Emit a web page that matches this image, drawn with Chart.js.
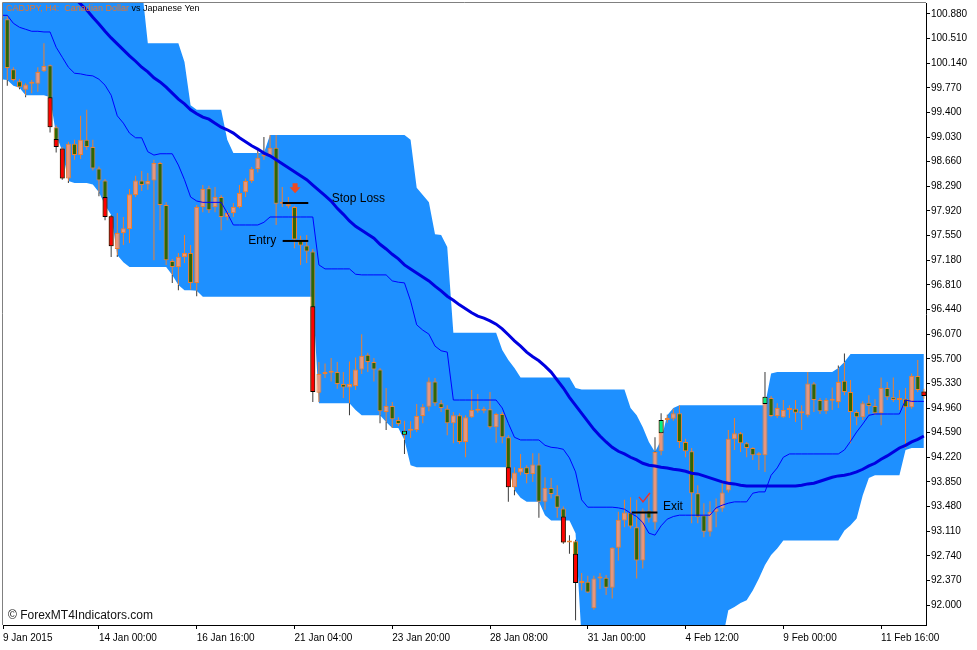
<!DOCTYPE html>
<html>
<head>
<meta charset="utf-8">
<title>CADJPY H4</title>
<script src="https://cdn.jsdelivr.net/npm/chart.js@4.4.1/dist/chart.umd.min.js"></script>
<style>
  html, body { margin: 0; padding: 0; background: #fff; }
  canvas { display: block; }
</style>
</head>
<body>
<canvas id="chart" width="977" height="650"></canvas>
<script>
// time labels under the chart, one every 16 H4 bars
const timeLabels = ['9 Jan 2015', '14 Jan 00:00', '16 Jan 16:00', '21 Jan 04:00', '23 Jan 20:00',
  '28 Jan 08:00', '31 Jan 00:00', '4 Feb 12:00', '9 Feb 00:00', '11 Feb 16:00'];
const timeLabelBars = [0, 16, 32, 48, 64, 80, 96, 112, 128, 144];

const priceTicks = [92.000, 92.370, 92.740, 93.110, 93.480, 93.850, 94.220, 94.590, 94.960, 95.330,
  95.700, 96.070, 96.440, 96.810, 97.180, 97.550, 97.920, 98.290, 98.660, 99.030, 99.400, 99.770,
  100.140, 100.510, 100.880];

// candles, oldest first
const opens = [
  100.82, 100.80, 100.05, 99.87, 99.74, 99.83, 99.83, 100.02, 100.11, 99.18,
  98.86, 98.41, 98.93, 98.76, 98.99, 98.88, 98.56, 98.38, 97.84, 97.35,
  97.59, 97.65, 98.16, 98.38, 98.32, 98.38, 98.64, 98.01, 97.17, 97.08,
  97.23, 97.29, 96.84, 97.98, 98.26, 97.98, 98.13, 97.83, 97.89, 97.98,
  98.20, 98.37, 98.55, 98.74, 98.75, 98.87, 98.03, 98.02, 97.98, 97.49,
  97.40, 97.31, 95.19, 95.47, 95.49, 95.50, 95.32, 95.27, 95.29, 95.54,
  95.76, 95.65, 95.54, 94.90, 94.99, 94.78, 94.56, 94.62, 94.63, 94.84,
  94.98, 95.36, 95.03, 94.95, 94.73, 94.85, 94.45, 94.82, 94.93, 94.92,
  94.94, 94.67, 94.87, 94.52, 93.77, 93.99, 94.07, 93.97, 94.11, 93.55,
  93.76, 93.65, 93.45, 92.94, 92.96, 92.33, 92.35, 91.95, 92.40, 92.41,
  92.26, 92.86, 93.27, 93.39, 93.17, 92.67, 93.42, 93.24, 94.31, 94.78,
  94.80, 94.88, 94.45, 94.31, 93.68, 93.35, 93.10, 93.40, 93.45, 93.72,
  94.49, 94.58, 94.43, 94.36, 94.25, 94.25, 95.11, 94.84, 94.82, 94.93,
  94.95, 94.88, 94.85, 95.33, 95.08, 94.91, 95.07, 95.05, 95.37, 95.20,
  94.90, 94.82, 95.04, 94.99, 94.88, 95.26, 95.12, 95.08, 95.10, 94.97,
  95.44, 95.21];
const highs = [
  100.88, 100.85, 100.08, 99.90, 99.84, 99.89, 100.08, 100.44, 100.12, 99.21,
  98.88, 98.96, 98.99, 99.35, 99.44, 98.99, 98.59, 98.40, 97.86, 97.89,
  97.83, 98.25, 98.45, 98.52, 98.49, 98.69, 98.66, 98.05, 97.20, 97.29,
  97.56, 97.41, 98.01, 98.31, 98.30, 98.28, 98.16, 97.93, 98.04, 98.31,
  98.41, 98.58, 98.84, 99.03, 99.06, 99.06, 98.28, 98.13, 98.00, 97.55,
  97.56, 97.35, 95.65, 95.63, 95.71, 95.65, 95.50, 95.66, 95.72, 96.07,
  95.79, 95.71, 95.56, 95.26, 95.05, 94.82, 94.77, 94.76, 95.02, 95.02,
  95.42, 95.41, 95.08, 95.00, 94.90, 94.88, 94.85, 95.23, 95.17, 94.98,
  95.20, 94.89, 94.90, 94.55, 94.07, 94.27, 94.10, 94.28, 94.28, 93.92,
  93.91, 93.80, 93.48, 93.05, 92.98, 92.48, 92.44, 92.44, 92.48, 92.45,
  92.87, 93.40, 93.58, 93.62, 93.58, 93.45, 93.68, 94.52, 94.88, 94.86,
  94.95, 95.00, 94.50, 94.36, 93.80, 93.53, 93.56, 93.60, 93.85, 94.63,
  94.81, 94.60, 94.45, 94.37, 94.30, 95.50, 95.14, 95.03, 95.08, 95.00,
  95.08, 95.00, 95.50, 95.35, 95.11, 95.11, 95.27, 95.60, 95.78, 95.38,
  94.93, 95.06, 95.15, 95.09, 95.42, 95.35, 95.42, 95.23, 95.26, 95.48,
  95.68, 95.25];
const lows = [
  100.78, 99.80, 99.87, 99.75, 99.63, 99.69, 99.71, 100.01, 99.10, 98.80,
  98.39, 98.34, 98.69, 98.70, 98.84, 98.53, 98.14, 97.78, 97.23, 97.23,
  97.41, 97.44, 98.13, 98.22, 98.24, 97.18, 97.63, 97.11, 96.84, 96.73,
  97.14, 96.74, 96.64, 97.90, 97.89, 97.90, 97.63, 97.78, 97.83, 97.96,
  98.13, 98.34, 98.50, 98.69, 98.73, 97.71, 97.98, 97.96, 97.36, 97.11,
  97.14, 95.05, 95.05, 95.41, 95.36, 95.25, 95.11, 94.85, 95.23, 95.47,
  95.50, 95.36, 94.73, 94.63, 94.66, 94.69, 94.27, 94.51, 94.60, 94.73,
  94.91, 94.99, 94.90, 94.55, 94.43, 94.42, 94.22, 94.81, 94.89, 94.88,
  94.65, 94.44, 94.43, 93.55, 93.65, 93.95, 93.83, 93.85, 93.31, 93.43,
  93.60, 93.31, 92.92, 92.77, 91.77, 92.22, 92.18, 91.93, 92.24, 92.15,
  92.10, 92.67, 93.17, 93.15, 92.40, 92.55, 93.24, 93.13, 94.25, 94.74,
  94.77, 94.36, 94.22, 93.23, 93.23, 93.02, 93.03, 93.17, 93.40, 93.69,
  94.33, 94.30, 94.22, 94.18, 94.03, 94.00, 94.82, 94.81, 94.81, 94.81,
  94.75, 94.63, 94.82, 94.90, 94.87, 94.87, 94.93, 94.96, 95.15, 94.43,
  94.70, 94.78, 94.87, 94.85, 94.70, 95.08, 95.05, 94.93, 94.36, 94.95,
  95.20, 95.10];
const closes = [
  100.86, 100.07, 99.89, 99.78, 99.82, 99.84, 100.01, 100.10, 99.18, 98.88,
  98.41, 98.93, 98.76, 98.99, 98.88, 98.56, 98.38, 97.83, 97.39, 97.59,
  97.66, 98.17, 98.38, 98.31, 98.37, 98.64, 98.01, 97.18, 97.08, 97.23,
  97.29, 96.84, 97.98, 98.25, 97.93, 98.13, 97.83, 97.89, 97.98, 98.19,
  98.37, 98.55, 98.72, 98.75, 98.87, 98.03, 98.04, 97.99, 97.49, 97.40,
  97.31, 95.20, 95.47, 95.49, 95.50, 95.32, 95.27, 95.32, 95.54, 95.74,
  95.65, 95.54, 94.91, 94.99, 94.79, 94.72, 94.62, 94.64, 94.84, 94.98,
  95.36, 95.03, 94.96, 94.73, 94.85, 94.45, 94.82, 94.93, 94.92, 94.94,
  94.67, 94.87, 94.52, 93.77, 93.99, 94.06, 93.97, 94.11, 93.55, 93.76,
  93.67, 93.46, 92.94, 92.96, 92.33, 92.34, 92.19, 92.40, 92.41, 92.26,
  92.86, 93.28, 93.39, 93.18, 92.67, 93.42, 93.30, 94.30, 94.78, 94.80,
  94.88, 94.45, 94.31, 93.68, 93.32, 93.10, 93.40, 93.45, 93.69, 94.50,
  94.58, 94.43, 94.36, 94.25, 94.27, 95.13, 94.84, 94.96, 94.93, 94.94,
  94.89, 94.91, 95.33, 95.08, 94.91, 95.08, 95.10, 95.35, 95.20, 94.90,
  94.82, 95.03, 94.99, 94.88, 95.26, 95.12, 95.08, 95.09, 94.97, 95.44,
  95.23, 95.14];

// channel: filled between upper and lower edge
const bandUpper = [
  101.30, 101.30, 101.30, 101.30, 101.30, 101.30, 101.30, 101.30, 101.30, 101.30,
  101.30, 101.30, 101.30, 101.30, 101.30, 101.30, 101.30, 101.30, 101.30, 101.30,
  101.30, 101.30, 101.30, 101.30, 100.44, 100.44, 100.44, 100.44, 100.44, 100.44,
  100.16, 99.51, 99.44, 99.44, 99.44, 99.44, 99.44, 98.99, 98.79, 98.79,
  98.79, 98.79, 98.79, 98.79, 99.06, 99.06, 99.06, 99.06, 99.06, 99.06,
  99.06, 99.06, 99.06, 99.06, 99.06, 99.06, 99.06, 99.06, 99.06, 99.06,
  99.06, 99.06, 99.06, 99.06, 99.06, 99.06, 99.06, 98.99, 98.27, 98.16,
  98.05, 97.57, 97.56, 97.38, 96.09, 96.09, 96.09, 96.09, 96.09, 96.09,
  96.09, 96.09, 95.83, 95.68, 95.56, 95.42, 95.42, 95.42, 95.42, 95.42,
  95.42, 95.42, 95.42, 95.42, 95.26, 95.24, 95.24, 95.24, 95.24, 95.24,
  95.24, 95.24, 95.24, 94.96, 94.85, 94.67, 94.45, 94.30, 94.48, 94.85,
  94.96, 95.00, 95.00, 95.00, 95.00, 95.00, 95.00, 95.00, 95.00, 95.00,
  95.00, 95.00, 95.00, 95.00, 95.00, 95.00, 95.48, 95.50, 95.50, 95.50,
  95.50, 95.50, 95.50, 95.50, 95.50, 95.50, 95.50, 95.56, 95.65, 95.77,
  95.77, 95.77, 95.77, 95.77, 95.77, 95.77, 95.77, 95.77, 95.77, 95.77,
  95.77, 95.77];
const bandLower = [
  99.90, 99.89, 99.80, 99.77, 99.66, 99.66, 99.66, 99.66, 99.63, 99.06,
  98.82, 98.37, 98.34, 98.34, 98.34, 98.32, 98.20, 98.01, 97.86, 97.26,
  97.15, 97.08, 97.08, 97.08, 97.08, 97.08, 97.08, 97.08, 96.96, 96.81,
  96.73, 96.73, 96.72, 96.63, 96.63, 96.63, 96.63, 96.63, 96.63, 96.63,
  96.63, 96.63, 96.63, 96.63, 96.63, 96.63, 96.63, 96.63, 96.63, 96.63,
  96.63, 96.63, 95.03, 95.03, 95.03, 95.03, 95.03, 95.03, 94.93, 94.85,
  94.85, 94.85, 94.85, 94.75, 94.66, 94.66, 94.48, 94.10, 94.07, 94.07,
  94.07, 94.07, 94.07, 94.07, 94.07, 94.07, 94.07, 94.07, 94.07, 94.07,
  94.07, 94.07, 94.07, 94.07, 93.73, 93.61, 93.55, 93.55, 93.55, 93.35,
  93.27, 93.27, 93.27, 93.27, 93.08, 91.47, 91.47, 91.47, 91.47, 91.47,
  91.47, 91.47, 91.47, 91.47, 91.47, 91.47, 91.47, 91.47, 91.47, 91.47,
  91.47, 91.47, 91.47, 91.47, 91.47, 91.47, 91.47, 91.47, 91.47, 91.92,
  91.97, 92.03, 92.07, 92.22, 92.40, 92.60, 92.75, 92.85, 92.97, 92.97,
  92.97, 92.97, 92.97, 92.97, 92.97, 92.97, 92.97, 92.97, 93.12, 93.20,
  93.30, 93.65, 93.91, 93.95, 93.95, 93.95, 93.95, 93.95, 94.33, 94.36,
  94.36, 94.36];
// thin middle line of the channel
const midLine = [
  100.86, 100.86, 100.74, 100.68, 100.65, 100.62, 100.62, 100.61, 100.61, 100.38,
  100.23, 100.08, 99.99, 99.98, 99.96, 99.95, 99.90, 99.81, 99.66, 99.35,
  99.24, 99.09, 99.02, 99.02, 98.81, 98.76, 98.78, 98.78, 98.78, 98.61,
  98.39, 98.13, 98.07, 98.05, 98.05, 98.05, 98.05, 97.89, 97.71, 97.71,
  97.71, 97.71, 97.71, 97.75, 97.83, 97.83, 97.83, 97.83, 97.83, 97.83,
  97.83, 97.83, 97.11, 97.05, 97.05, 97.05, 97.05, 97.05, 96.97, 96.96,
  96.96, 96.96, 96.96, 96.96, 96.87, 96.85, 96.84, 96.57, 96.21, 96.13,
  96.07, 95.89, 95.82, 95.80, 95.08, 95.08, 95.08, 95.08, 95.08, 95.08,
  95.08, 95.08, 94.96, 94.73, 94.52, 94.48, 94.48, 94.48, 94.48, 94.40,
  94.37, 94.36, 94.34, 94.21, 94.00, 93.58, 93.47, 93.47, 93.47, 93.47,
  93.47, 93.46, 93.44, 93.38, 93.33, 93.24, 93.08, 93.05, 93.19, 93.29,
  93.33, 93.35, 93.35, 93.35, 93.35, 93.35, 93.35, 93.46, 93.50, 93.53,
  93.55, 93.55, 93.55, 93.68, 93.70, 93.70, 93.95, 94.06, 94.22, 94.27,
  94.27, 94.27, 94.27, 94.27, 94.27, 94.27, 94.27, 94.27, 94.33, 94.46,
  94.60, 94.72, 94.85, 94.87, 94.87, 94.87, 94.87, 94.87, 95.08, 95.06,
  95.06, 95.06];
// slow moving average (thick line)
const slowMA = [
  102.29, 102.19, 102.08, 101.98, 101.87, 101.77, 101.66, 101.56, 101.45, 101.35,
  101.24, 101.17, 101.12, 101.03, 100.94, 100.83, 100.73, 100.62, 100.52, 100.43,
  100.34, 100.25, 100.17, 100.08, 100.01, 99.92, 99.86, 99.78, 99.69, 99.60,
  99.53, 99.44, 99.38, 99.33, 99.30, 99.24, 99.18, 99.14, 99.09, 99.02,
  98.96, 98.90, 98.85, 98.79, 98.75, 98.69, 98.63, 98.57, 98.51, 98.45,
  98.39, 98.31, 98.23, 98.15, 98.07, 97.96, 97.87, 97.77, 97.69, 97.63,
  97.57, 97.51, 97.42, 97.35, 97.27, 97.20, 97.11, 97.05, 96.99, 96.93,
  96.87, 96.79, 96.72, 96.64, 96.58, 96.51, 96.45, 96.39, 96.34, 96.31,
  96.27, 96.22, 96.15, 96.06, 95.97, 95.89, 95.80, 95.73, 95.67, 95.59,
  95.50, 95.38, 95.26, 95.12, 95.00, 94.88, 94.76, 94.64, 94.54, 94.45,
  94.37, 94.31, 94.27, 94.22, 94.18, 94.13, 94.10, 94.09, 94.07, 94.06,
  94.04, 94.03, 94.01, 93.98, 93.97, 93.94, 93.91, 93.88, 93.85, 93.83,
  93.82, 93.80, 93.79, 93.79, 93.79, 93.79, 93.79, 93.79, 93.79, 93.79,
  93.79, 93.80, 93.82, 93.83, 93.86, 93.89, 93.92, 93.94, 93.95, 93.97,
  94.00, 94.04, 94.09, 94.13, 94.19, 94.24, 94.30, 94.36, 94.40, 94.45,
  94.49, 94.54];

// bars painted by the signal indicator: [bar, from price, to price]
const redMarks = [[8, 99.63, 99.18], [9, 99.00, 98.88], [10, 98.86, 98.41], [17, 98.13, 97.83],
  [18, 97.84, 97.39], [51, 96.49, 95.20], [83, 94.07, 93.77], [92, 93.33, 92.94],
  [94, 92.77, 92.33], [151, 95.21, 95.14]];
const greenMarks = [[66, 94.56, 94.62], [108, 94.58, 94.78], [125, 95.02, 95.13]];

// trade annotations: bar range and price
const stopLoss = { from: 46.07, to: 50.26, price: 98.04 };
const entry = { from: 46.07, to: 50.26, price: 97.47 };
const exit = { from: 103.2, to: 107.4, price: 93.39 };
const sellArrow = { bar: 48.1, price: 98.26 };
const exitCheck = { bar: 105.2, price: 93.61 };
const notes = [
  { text: 'Stop Loss', bar: 54.1, price: 98.11, align: 'left' },
  { text: 'Entry', bar: 45.0, price: 97.47, align: 'right' },
  { text: 'Exit', bar: 108.3, price: 93.48, align: 'left' }
];

const X_MIN = 0.3, X_MAX = 151.35;
const Y_MIN = 91.70, Y_MAX = 101.045;

const BULL = '#E9967A', BEAR = '#336600', OUTLINE = '#EE8030';

const pts = (arr) => arr.map((v, i) => ({ x: i, y: v }));

// wicks: orange inside the channel, dark where they stick out of it
const wickIn = [], wickOut = [];
for (let i = 0; i < opens.length; i++) {
  const lo = Math.max(lows[i], bandLower[i]);
  const hi = Math.min(highs[i], bandUpper[i]);
  if (hi > lo) wickIn.push({ x: i, y: [lo, hi] });
  if (lows[i] < bandLower[i]) wickOut.push({ x: i, y: [lows[i], Math.min(highs[i], bandLower[i])] });
  if (highs[i] > bandUpper[i]) wickOut.push({ x: i, y: [Math.max(lows[i], bandUpper[i]), highs[i]] });
}
const bodies = opens.map((o, i) => ({ x: i, y: [o, closes[i]] }));
const bodyFill = opens.map((o, i) => (closes[i] >= o ? BULL : BEAR));

const barBase = {
  type: 'bar', grouped: false, borderSkipped: false, inflateAmount: 0,
  categoryPercentage: 1, barPercentage: 0.9
};
const levelLine = (lv, order) => ({
  type: 'line', order, data: [{ x: lv.from, y: lv.price }, { x: lv.to, y: lv.price }],
  borderColor: '#000', borderWidth: 2, pointRadius: 0
});

const decorations = {
  id: 'decorations',
  afterDatasetsDraw(chart) {
    const { ctx, scales: { x, y } } = chart;
    ctx.save();

    // sell arrow
    const ax = x.getPixelForValue(sellArrow.bar), ay = y.getPixelForValue(sellArrow.price);
    ctx.fillStyle = '#EE4A22';
    ctx.beginPath();
    ctx.moveTo(ax - 2.5, ay - 5);
    ctx.lineTo(ax + 2.5, ay - 5);
    ctx.lineTo(ax + 2.5, ay - 1);
    ctx.lineTo(ax + 5.5, ay - 1);
    ctx.lineTo(ax, ay + 5);
    ctx.lineTo(ax - 5.5, ay - 1);
    ctx.lineTo(ax - 2.5, ay - 1);
    ctx.closePath();
    ctx.fill();

    // exit check mark
    const cx = x.getPixelForValue(exitCheck.bar), cy = y.getPixelForValue(exitCheck.price);
    ctx.strokeStyle = '#E83030';
    ctx.lineWidth = 1.5;
    ctx.beginPath();
    ctx.moveTo(cx - 5, cy - 1);
    ctx.lineTo(cx - 1, cy + 4);
    ctx.lineTo(cx + 6, cy - 5);
    ctx.stroke();

    ctx.font = '12px "Liberation Sans"';
    ctx.fillStyle = '#000';
    ctx.textBaseline = 'middle';
    notes.forEach(n => {
      ctx.textAlign = n.align;
      ctx.fillText(n.text, x.getPixelForValue(n.bar), y.getPixelForValue(n.price));
    });
    ctx.restore();
  },
  afterDraw(chart) {
    const { ctx, chartArea: { left, top, right, bottom } } = chart;
    ctx.save();
    ctx.strokeStyle = '#808080';
    ctx.lineWidth = 1;
    ctx.beginPath();
    ctx.moveTo(left - 0.5, bottom);
    ctx.lineTo(left - 0.5, top - 0.5);
    ctx.lineTo(right, top - 0.5);
    ctx.stroke();

    ctx.textBaseline = 'middle';
    ctx.textAlign = 'left';
    ctx.font = '9px "Liberation Sans"';
    const part1 = 'CADJPY, H4:  Canadian Dollar ';
    ctx.fillStyle = '#E8742A';
    ctx.fillText(part1, left + 3, top + 6);
    ctx.fillStyle = '#000';
    ctx.fillText('vs Japanese Yen', left + 3 + ctx.measureText(part1).width, top + 6);

    ctx.font = '12px "Liberation Sans"';
    ctx.fillStyle = '#111';
    ctx.fillText('\u00A9 ForexMT4Indicators.com', left + 5, bottom - 9);
    ctx.restore();
  }
};

Chart.defaults.font.family = '"Liberation Sans", Arial, sans-serif';
Chart.defaults.color = '#000';

new Chart(document.getElementById('chart'), {
  type: 'bar',
  data: {
    datasets: [
      { type: 'line', order: 20, data: pts(bandUpper), fill: '+1', backgroundColor: '#1E90FF',
        borderColor: 'rgba(0,0,0,0)', borderWidth: 0, pointRadius: 0 },
      { type: 'line', order: 19, data: pts(bandLower), fill: false,
        borderColor: 'rgba(0,0,0,0)', borderWidth: 0, pointRadius: 0 },
      { ...barBase, order: 18, data: wickIn, backgroundColor: OUTLINE, borderWidth: 0, maxBarThickness: 1 },
      { ...barBase, order: 17, data: wickOut, backgroundColor: '#3a3a3a', borderWidth: 0, maxBarThickness: 1 },
      { ...barBase, order: 16, data: bodies, backgroundColor: bodyFill, borderColor: OUTLINE,
        borderWidth: 1, maxBarThickness: 5, minBarLength: 2 },
      { ...barBase, order: 15, data: redMarks.map(m => ({ x: m[0], y: [m[1], m[2]] })),
        backgroundColor: '#FF0000', borderColor: '#000', borderWidth: 1, maxBarThickness: 5, minBarLength: 2 },
      { ...barBase, order: 14, data: greenMarks.map(m => ({ x: m[0], y: [m[1], m[2]] })),
        backgroundColor: '#00F080', borderColor: '#000', borderWidth: 1, maxBarThickness: 5, minBarLength: 2 },
      { type: 'line', order: 13, data: pts(midLine), borderColor: '#0000FF', borderWidth: 1,
        pointRadius: 0, fill: false },
      { type: 'line', order: 12, data: pts(slowMA), borderColor: '#0000E0', borderWidth: 3,
        pointRadius: 0, fill: false },
      levelLine(stopLoss, 11),
      levelLine(entry, 10),
      levelLine(exit, 9)
    ]
  },
  options: {
    responsive: false,
    animation: false,
    events: [],
    layout: { padding: { left: 3, top: 3, right: 0, bottom: 0 } },
    plugins: { legend: { display: false }, tooltip: { enabled: false } },
    scales: {
      x: {
        type: 'linear', min: X_MIN, max: X_MAX, bounds: 'data', offset: false,
        grid: { offset: false, drawOnChartArea: false, drawTicks: true, tickLength: 4, color: '#000' },
        border: { display: true, color: '#000' },
        ticks: {
          autoSkip: false, maxRotation: 0, align: 'start', padding: 3,
          font: { size: 10 }, color: '#000',
          callback: (v, i) => timeLabels[i]
        },
        afterBuildTicks: (scale) => {
          scale.ticks = timeLabelBars.map(b => ({ value: Math.max(b, X_MIN) }));
        },
        afterFit: (scale) => {
          scale.height = 25;
          scale.paddingLeft = 0;
          scale.paddingRight = 0;
        }
      },
      y: {
        type: 'linear', position: 'right', min: Y_MIN, max: Y_MAX, bounds: 'data', beginAtZero: false,
        grid: { drawOnChartArea: false, drawTicks: true, tickLength: 4, color: '#000' },
        border: { display: true, color: '#000' },
        ticks: {
          autoSkip: false, padding: 1, font: { size: 10 }, color: '#000',
          callback: (v) => v.toFixed(3)
        },
        afterBuildTicks: (scale) => {
          scale.ticks = priceTicks.map(v => ({ value: v }));
        },
        afterFit: (scale) => {
          scale.width = 51;
          scale.paddingTop = 0;
          scale.paddingBottom = 0;
        }
      }
    }
  },
  plugins: [decorations]
});
</script>
</body>
</html>
